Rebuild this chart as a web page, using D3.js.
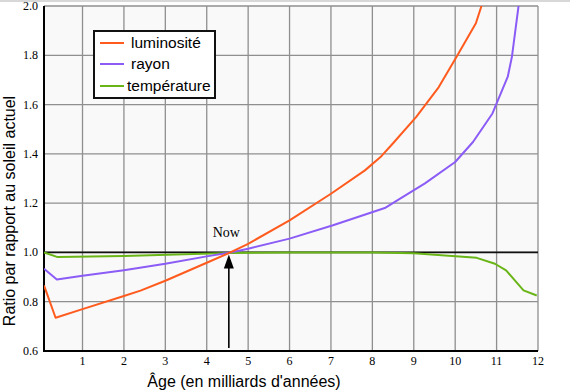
<!DOCTYPE html>
<html><head><meta charset="utf-8">
<script src="https://cdn.jsdelivr.net/npm/d3@7"></script>
<style>body{margin:0;background:#fff}svg{display:block}</style>
</head><body>
<svg id="c" width="570" height="392"></svg>
<script>
const xTicks = [1,2,3,4,5,6,7,8,9,10,11,12];
const yTicks = [0.6,0.8,1.0,1.2,1.4,1.6,1.8,2.0];
const seriesNames = ["luminosité","rayon","température"];
const luminosite = [[0.07,0.866],[0.35,0.735],[1.0,0.77],[2.0,0.823],[2.4,0.845],[3.0,0.885],[4.0,0.958],[4.57,1.0],[5.0,1.035],[6.0,1.13],[7.0,1.238],[7.82,1.333],[8.19,1.386],[8.5,1.443],[9.06,1.55],[9.6,1.67],[10.02,1.79],[10.5,1.93],[10.75,2.06]];
const rayon = [[0.07,0.934],[0.38,0.89],[1.0,0.905],[2.0,0.928],[3.0,0.954],[4.0,0.984],[4.57,1.0],[5.0,1.015],[6.0,1.056],[7.05,1.11],[8.3,1.18],[8.67,1.218],[9.27,1.28],[10.0,1.367],[10.43,1.448],[10.9,1.564],[11.27,1.713],[11.37,1.794],[11.53,2.0],[11.56,2.06]];
const temperature = [[0.07,1.0],[0.4,0.981],[2.0,0.986],[4.57,0.998],[6.0,1.0],[8.0,1.0],[9.0,0.997],[10.52,0.978],[10.96,0.954],[11.23,0.927],[11.65,0.846],[11.97,0.825]];
const nowAge = 4.57, nowVal = 1.0, arrowBottom = 0.612;

const colors = ["#ff5b1e","#8b5cf6","#69b517"];
const svg = d3.select("#c");
const L=44, R=538, T=6, B=351;
const x = d3.scaleLinear().domain([0.07,12]).range([L,R]);
const y = d3.scaleLinear().domain([0.6,2.0]).range([B,T]);

svg.append("line").attr("x1",0).attr("x2",570).attr("y1",1).attr("y2",1).attr("stroke","#d8d8d8").attr("stroke-width",2);
svg.append("rect").attr("x",L).attr("y",T).attr("width",R-L).attr("height",B-T).attr("fill","#f9f9f9");

const defs = svg.append("defs");
defs.append("clipPath").attr("id","clip").append("rect").attr("x",L).attr("y",T).attr("width",R-L).attr("height",B-T);

// grid
svg.append("g").selectAll("line").data(xTicks).join("line")
  .attr("x1",d=>x(d)).attr("x2",d=>x(d)).attr("y1",T).attr("y2",B)
  .attr("stroke","#8f8f8f").attr("stroke-width",1.3);
svg.append("g").selectAll("line").data(yTicks.filter(d=>d>0.6)).join("line")
  .attr("x1",L).attr("x2",R).attr("y1",d=>y(d)).attr("y2",d=>y(d))
  .attr("stroke","#8f8f8f").attr("stroke-width",1.3);

// reference line at 1.0
svg.append("line").attr("x1",L).attr("x2",R).attr("y1",y(1)).attr("y2",y(1)).attr("stroke","#111").attr("stroke-width",1.8);

// axes lines
svg.append("line").attr("x1",L).attr("x2",L).attr("y1",T).attr("y2",B+1).attr("stroke","#000").attr("stroke-width",2);
svg.append("line").attr("x1",L-1).attr("x2",R).attr("y1",B).attr("y2",B).attr("stroke","#000").attr("stroke-width",2);

// tick labels
svg.append("g").selectAll("text").data(yTicks).join("text")
  .attr("x",L-6).attr("y",d=>y(d)+4).attr("text-anchor","end")
  .attr("font-family","Liberation Serif, Times New Roman, serif").attr("font-size",12)
  .text(d=>d.toFixed(1));
svg.append("g").selectAll("text").data(xTicks).join("text")
  .attr("x",d=>x(d)).attr("y",365).attr("text-anchor","middle")
  .attr("font-family","Liberation Serif, Times New Roman, serif").attr("font-size",12)
  .text(d=>d);

// series
const line = d3.line().x(d=>x(d[0])).y(d=>y(d[1]));
const data = [luminosite, rayon, temperature];
const g = svg.append("g").attr("clip-path","url(#clip)");
[2,1,0].forEach(i=>{
  g.append("path").attr("d",line(data[i])).attr("fill","none").attr("stroke",colors[i]).attr("stroke-width",2).attr("stroke-linejoin","round");
});

// Now annotation
svg.append("text").attr("x",x(nowAge)-4).attr("y",237).attr("text-anchor","middle")
  .attr("font-family","Liberation Serif, Times New Roman, serif").attr("font-size",14).text("Now");
const ax = x(nowAge)-1.5;
svg.append("line").attr("x1",ax).attr("x2",ax).attr("y1",y(arrowBottom)).attr("y2",y(nowVal)+12).attr("stroke","#000").attr("stroke-width",1.6);
svg.append("path").attr("d",`M${ax},${y(nowVal)+2} L${ax-5},${y(nowVal)+16} L${ax+5},${y(nowVal)+16} Z`).attr("fill","#000");

// legend
const lg = svg.append("g");
lg.append("rect").attr("x",94).attr("y",31).attr("width",121).attr("height",67).attr("fill","#fff").attr("stroke","#111").attr("stroke-width",2);
const ly=[43,64,86], lx=[131,131,127];
seriesNames.forEach((n,i)=>{
  lg.append("line").attr("x1",100).attr("x2",124).attr("y1",ly[i]).attr("y2",ly[i]).attr("stroke",colors[i]).attr("stroke-width",2);
  lg.append("text").attr("x",lx[i]).attr("y",ly[i]+5).attr("font-family","Liberation Sans, Arial, sans-serif").attr("font-size",15.5).text(n);
});

// axis titles
svg.append("text").attr("transform","translate(15,211) rotate(-90)").attr("text-anchor","middle")
  .attr("font-family","Liberation Sans, Arial, sans-serif").attr("font-size",16).text("Ratio par rapport au soleil actuel");
svg.append("text").attr("x",244).attr("y",387).attr("text-anchor","middle")
  .attr("font-family","Liberation Sans, Arial, sans-serif").attr("font-size",16).text("Âge (en milliards d'années)");
</script>
</body></html>
